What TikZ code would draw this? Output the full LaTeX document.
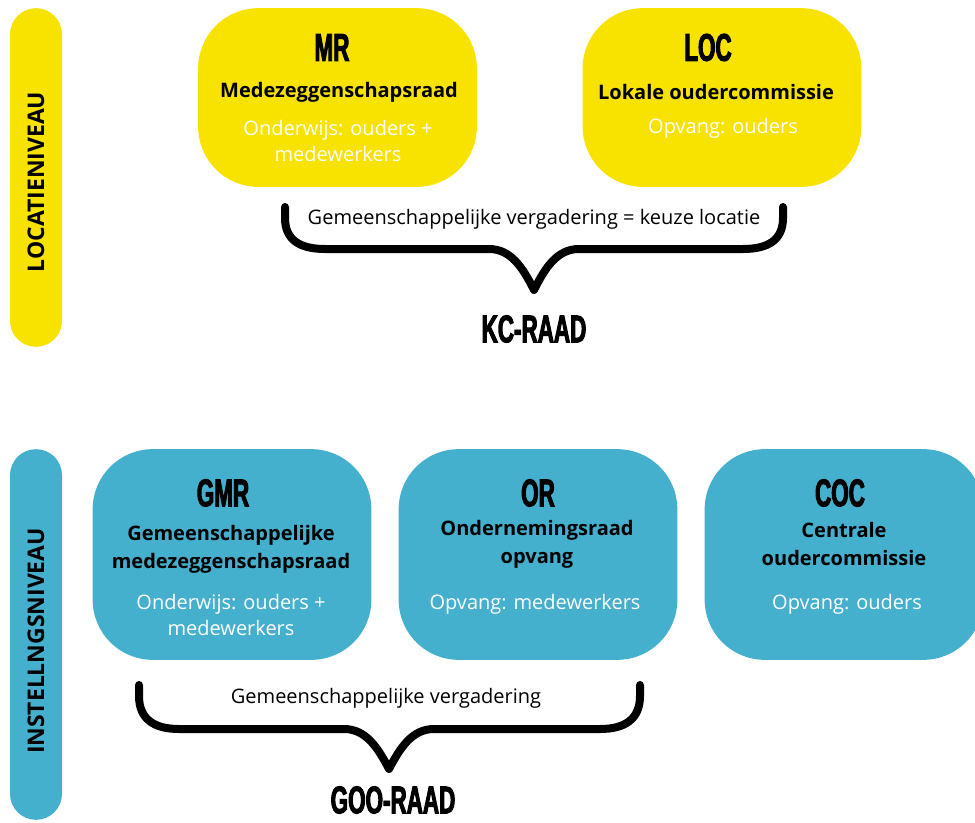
\documentclass[tikz,border=0pt]{standalone}
\usepackage{fontspec}
\setmainfont{Open Sans}
\newfontfamily\kopfont[FakeStretch=0.58,FakeBold=2.5]{Liberation Sans}

\definecolor{geel}{RGB}{248,226,0}
\definecolor{blauw}{RGB}{69,175,206}

\tikzset{
    vlak/.style={rounded corners=45pt, inner sep=0pt, minimum width=209pt},
    balk/.style={rounded corners=19.5pt, inner sep=0pt, minimum width=39pt},
    niveau/.style={rotate=90, font=\bfseries\fontsize{17.2}{18}\selectfont},
    kop/.style={font=\kopfont\bfseries\fontsize{29}{30}\selectfont},
    naam/.style={align=center, font=\bfseries\fontsize{15}{21}\selectfont},
    wit/.style={align=center, text=white, font=\fontsize{15}{20}\selectfont},
    tekst/.style={font=\fontsize{15}{20}\selectfont},
    accolade/.style={line width=6pt, line cap=round, line join=round}
}

\begin{document}
\begin{tikzpicture}[x=0.75pt, y=-0.75pt]
    \useasboundingbox (0,0) rectangle (975,822);

    % niveaus
    \node[balk, fill=geel, minimum height=254pt]  at (36, 177.5) (locatie)    {};
    \node[balk, fill=blauw, minimum height=278pt] at (36, 634.5) (instelling) {};
    \node[niveau] at (36, 182) (locatietekst)   {LOCATIENIVEAU};
    \node[niveau] at (36, 641) (instellingtekst) {INSTELLNGSNIVEAU};

    % locatieniveau
    \node[vlak, fill=geel, minimum height=134pt] at (337.5, 97.5) (mr)  {};
    \node[vlak, fill=geel, minimum height=134pt] at (722, 97.5)   (loc) {};

    \node[kop]  at (332, 47.5) (mrkop)   {MR};
    \node[naam] at (339, 92)   (mrnaam)  {Medezeggenschapsraad};
    \node[wit]  at (338, 141)  (mrwit)   {Onderwijs: ouders +\\medewerkers};

    \node[kop]  at (708, 47.5) (lockop)  {LOC};
    \node[naam] at (716, 92)   (locnaam) {Lokale oudercommissie};
    \node[wit]  at (723, 128)  (locwit)  {Opvang: ouders};

    % accolade kc-raad
    \coordinate (kcl) at (285, 207);
    \coordinate (kcr) at (783, 207);
    \coordinate (kcp) at (534, 290);
    \draw[accolade] (kcl) -- (285, 218) .. controls (285, 240) and (300, 249) .. (325, 249)
        -- (489, 249) .. controls (511, 249) and (523, 268) .. (kcp)
        .. controls (545, 268) and (557, 249) .. (579, 249)
        -- (743, 249) .. controls (768, 249) and (783, 240) .. (783, 218) -- (kcr);
    \node[tekst] at (534, 219) (kctekst) {Gemeenschappelijke vergadering = keuze locatie};
    \node[kop]   at (534, 329) (kcraad)  {KC-RAAD};

    % instellingsniveau
    \node[vlak, fill=blauw, minimum height=158pt] at (232, 554.5) (gmr) {};
    \node[vlak, fill=blauw, minimum height=158pt] at (538, 554.5) (or)  {};
    \node[vlak, fill=blauw, minimum height=158pt] at (844, 554.5) (coc) {};

    \node[kop]  at (223, 493) (gmrkop)  {GMR};
    \node[naam] at (231, 549) (gmrnaam) {Gemeenschappelijke\\medezeggenschapsraad};
    \node[wit]  at (231, 615) (gmrwit)  {Onderwijs: ouders +\\medewerkers};

    \node[kop]  at (538, 493) (orkop)   {OR};
    \node[naam] at (537, 544) (ornaam)  {Ondernemingsraad\\opvang};
    \node[wit]  at (535, 604) (orwit)   {Opvang: medewerkers};

    \node[kop]  at (840, 493) (cockop)  {COC};
    \node[naam] at (844, 544) (cocnaam) {Centrale\\oudercommissie};
    \node[wit]  at (847, 604) (cocwit)  {Opvang: ouders};

    % accolade goo-raad
    \coordinate (gool) at (139, 685);
    \coordinate (goor) at (640, 685);
    \coordinate (goop) at (389, 769);
    \draw[accolade] (gool) -- (139, 696) .. controls (139, 719) and (154, 729) .. (179, 729)
        -- (344, 729) .. controls (366, 729) and (378, 748) .. (goop)
        .. controls (400, 748) and (412, 729) .. (434, 729)
        -- (600, 729) .. controls (625, 729) and (640, 719) .. (640, 696) -- (goor);
    \node[tekst] at (386, 698) (gootekst) {Gemeenschappelijke vergadering};
    \node[kop]   at (393, 800) (gooraad)  {GOO-RAAD};

\end{tikzpicture}
\end{document}
